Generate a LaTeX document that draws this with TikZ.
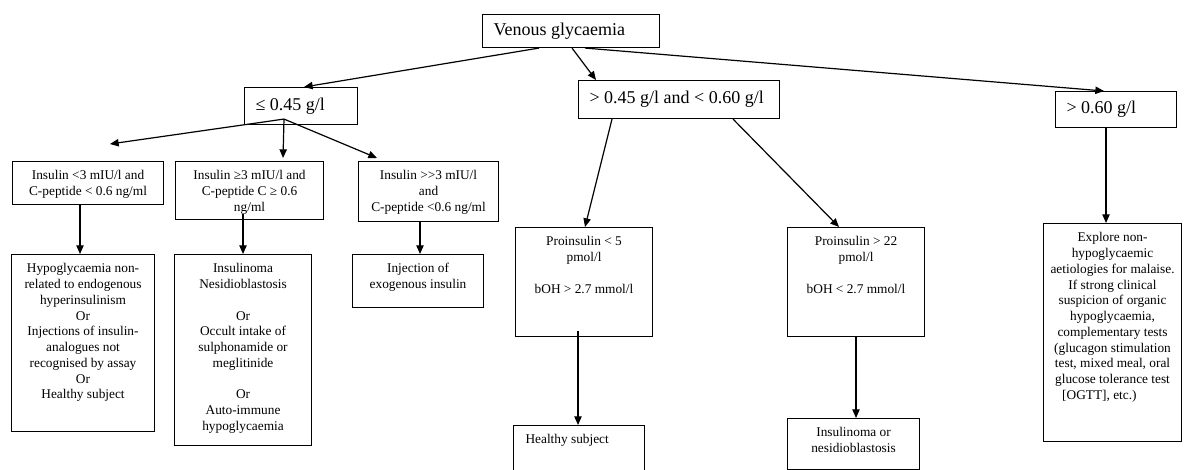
\documentclass[tikz,border=0pt]{standalone}
\usepackage{fontspec}
\setmainfont{Liberation Serif}
\usetikzlibrary{arrows.meta,calc}
\newcommand\pd[1]{\dimexpr#1pt*3/4\relax}
% centred text, top aligned
\newcommand\tbx[3]{\parbox[c][\pd{#2}][t]{\pd{#1}}{\fontsize{10}{11.8}\selectfont\centering\vspace*{5.5pt}\strut#3\par}}
% left aligned, vertically centred, larger text
\newcommand\lbx[3]{\parbox[c][\pd{#2}][c]{\pd{#1}}{\fontsize{13.5}{15}\selectfont\hspace*{8.25pt}#3}}
\begin{document}
\begin{tikzpicture}[x=0.75pt,y=-0.75pt,
  box/.style={draw, line width=0.8pt, inner sep=0pt, anchor=north west},
  arr/.style={-{Triangle[length=6.5pt,width=5.5pt]}, line width=0.9pt}]
\useasboundingbox (0,0) rectangle (1184,470);
\fill[white] (0,0) rectangle (1184,470);
\clip (0,0) rectangle (1184,470);

% level 1
\node[box] (ven) at (482,14) {\lbx{177}{33}{Venous glycaemia}};
\node[box] (le) at (244,87) {\lbx{113}{37}{≤ 0.45 g/l}};
\node[box] (mid) at (578,80) {\lbx{201}{38}{> 0.45 g/l and < 0.60 g/l}};
\node[box] (hi) at (1055,91) {\lbx{121}{36}{> 0.60 g/l}};

% level 2 (left)
\node[box] (i1) at (12,161) {\tbx{151}{43}{Insulin <3 mIU/l and\\C-peptide < 0.6 ng/ml}};
\node[box] (i2) at (175,161) {\tbx{148}{58}{Insulin ≥3 mIU/l and\\C-peptide C ≥ 0.6\\ng/ml}};
\node[box] (i3) at (358,161) {\tbx{140}{60}{Insulin >\kern0pt>3 mIU/l\\and\\C-peptide <0.6 ng/ml}};

% level 3
\node[box] (hy) at (11,254) {\tbx{143}{177}{Hypoglycaemia non-\\related to endogenous\\hyperinsulinism\\Or\\Injections of insulin-\\analogues not\\recognised by assay\\Or\\Healthy subject}};
\node[box] (in) at (174,254) {\tbx{137}{191}{Insulinoma\\Nesidioblastosis\\[11.8pt]Or\\Occult intake of\\sulphonamide or\\meglitinide\\[11.8pt]Or\\Auto-immune\\hypoglycaemia}};
\node[box] (inj) at (352,254) {\tbx{131}{53}{Injection of\\exogenous insulin}};
\node[box] (p5) at (515,227) {\tbx{137}{109}{Proinsulin < 5\\pmol/l\\[11.8pt]bOH > 2.7 mmol/l}};
\node[box] (p22) at (787,227) {\tbx{137}{109}{Proinsulin > 22\\pmol/l\\[11.8pt]bOH < 2.7 mmol/l}};
\node[box] (ex) at (1043,223) {\tbx{138}{218}{Explore non-\\hypoglycaemic\\aetiologies for malaise.\\If strong clinical\\suspicion of organic\\hypoglycaemia,\\complementary tests\\(glucagon stimulation\\test, mixed meal, oral\\glucose tolerance test\\\makebox[\linewidth][l]{\hspace*{14pt}[OGTT], etc.)}}};
\node[box] (hs) at (513,425) {\parbox[c][\pd{60}][t]{\pd{131}}{\fontsize{10}{11.8}\selectfont\vspace*{5.5pt}\strut\hspace*{9pt}Healthy subject\par}};
\node[box] (io) at (787,418) {\tbx{132}{51}{Insulinoma or\\nesidioblastosis}};

% connectors
\draw[arr] ($(ven.south west)+(57,0)$) -- ($(le.north west)+(60,0)$);
\draw[arr] ($(ven.south west)+(90,0)$) -- ($(mid.north west)+(18,0)$);
\draw[arr] ($(ven.south west)+(103,0)$) -- ($(hi.north west)+(49,0)$);

\coordinate (lefttip) at ($(i1.north west)+(98,-17)$);
\draw[arr] ($(le.south west)+(40,-6)$) -- (lefttip);
\draw[arr] ($(le.south west)+(40,-6)$) -- ($(i2.north west)+(108,-3)$);
\draw[arr] ($(le.south west)+(40,-6)$) -- ($(i3.north west)+(19,-3)$);

\draw[arr] ($(i1.south west)+(68,0)$) -- ($(hy.north west)+(69,0)$);
\draw[arr] ($(i2.south west)+(68,-6)$) -- ($(in.north west)+(69,0)$);
\draw[arr] ($(i3.south west)+(62,0)$) -- ($(inj.north west)+(68,0)$);

\draw[arr] ($(mid.south west)+(34,0)$) -- ($(p5.north west)+(70,0)$);
\draw[arr] ($(mid.south west)+(155,0)$) -- ($(p22.north west)+(52,0)$);
\draw[arr] ($(hi.south west)+(51,0)$) -- ($(ex.north west)+(63,0)$);

\draw[arr] ($(p5.south west)+(63,-6)$) -- ($(hs.north west)+(65,0)$);
\draw[arr] ($(p22.south west)+(69,0)$) -- ($(io.north west)+(69,0)$);
\end{tikzpicture}
\end{document}
